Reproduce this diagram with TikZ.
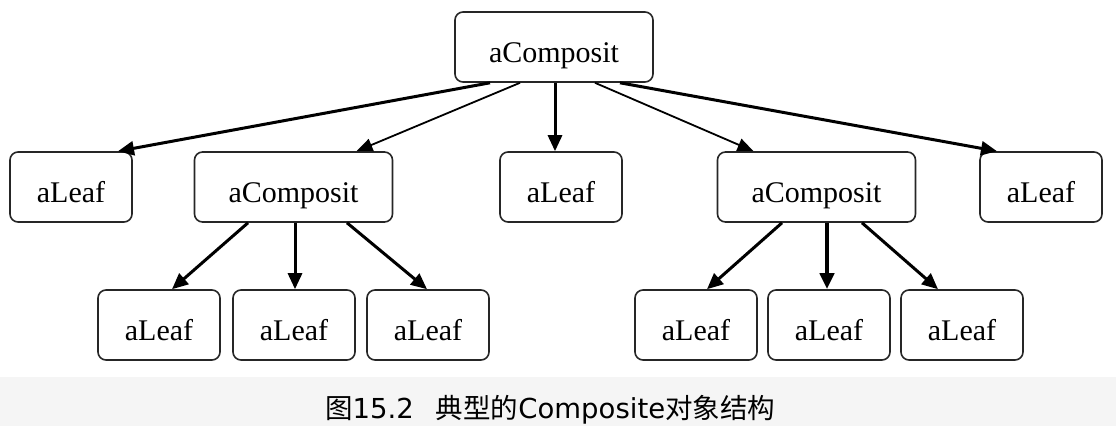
\documentclass[tikz,border=0pt]{standalone}
\usepackage{fontspec}
\setmainfont{Liberation Serif}
\newfontfamily\cjk{Noto Sans CJK SC}
\newfontfamily\capfont{DejaVu Sans}
\usetikzlibrary{arrows.meta}

\begin{document}
\begin{tikzpicture}[x=1pt, y=-1pt,
	obj/.style={draw=black!85, line width=1.6pt, rounded corners=8pt,
		minimum height=70pt, inner sep=0pt, text height=30pt, text depth=0pt,
		font=\fontsize{30}{36}\selectfont},
	leaf/.style={obj, minimum width=122pt},
	comp/.style={obj, minimum width=198pt},
	link/.style={line width=3pt, -{Triangle[length=16pt,width=14pt]}},
	thinlink/.style={line width=1.8pt, -{Triangle[length=16pt,width=13pt]}}]
\useasboundingbox (0,0) rectangle (1116,426);
\fill[black!4] (0,377) rectangle (1116,426);

% top and second row
\node[comp] (top) at (554,47) {aComposit};
\node[leaf] (leafA) at (71,187) {aLeaf};
\node[comp] (compL) at (293.5,187) {aComposit};
\node[leaf] (leafM) at (561,187) {aLeaf};
\node[comp] (compR) at (816.5,187) {aComposit};
\node[leaf] (leafR) at (1041,187) {aLeaf};

% third row
\foreach \name/\x in {leafLa/159,leafLb/294,leafLc/428,leafRa/696,leafRb/829,leafRc/962}{
	\node[leaf] (\name) at (\x,325) {aLeaf};
}

\draw[link] ([xshift=-64pt]top.south) -- ([xshift=47pt]leafA.north);
\draw[thinlink] ([xshift=-34pt]top.south) -- ([xshift=63pt]compL.north);
\draw[link] ([xshift=1pt]top.south) -- ([xshift=-6pt]leafM.north);
\draw[thinlink] ([xshift=41pt]top.south) -- ([xshift=-63pt]compR.north);
\draw[link] ([xshift=66pt]top.south) -- ([xshift=-44pt]leafR.north);

\draw[link] ([xshift=-45.5pt]compL.south) -- ([xshift=13pt]leafLa.north);
\draw[link] ([xshift=1.5pt]compL.south) -- ([xshift=1pt]leafLb.north);
\draw[link] ([xshift=53.5pt]compL.south) -- ([xshift=-1pt]leafLc.north);

\draw[link] ([xshift=-34.5pt]compR.south) -- ([xshift=11pt]leafRa.north);
\draw[link, line width=4pt] ([xshift=10.5pt]compR.south) -- ([xshift=-2pt]leafRb.north);
\draw[link] ([xshift=45.5pt]compR.south) -- ([xshift=-24pt]leafRc.north);

\node[anchor=base west, inner sep=0pt, text=black, font=\fontsize{27.5}{32}\selectfont] (caption) at (325,418)
	{{\cjk 图}{\capfont 15.2}\hspace{22pt}{\cjk 典型的}{\capfont Composite}{\cjk 对象结构}};
\end{tikzpicture}
\end{document}
